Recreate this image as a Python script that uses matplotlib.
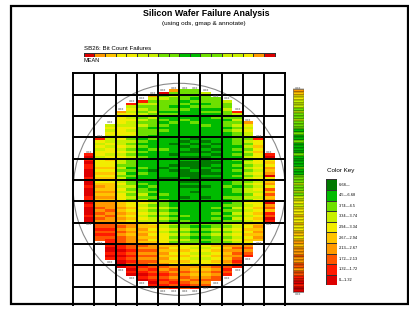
import numpy as np
import matplotlib
matplotlib.use('Agg')
import matplotlib.pyplot as plt
from matplotlib.colors import ListedColormap, BoundaryNorm
from matplotlib.patches import Rectangle, Ellipse

plt.rcParams['font.family'] = ['Liberation Sans', 'DejaVu Sans']

# colour key, lowest class first
key_colors = ['#DD0000', '#FF1A00', '#FF5500', '#FF9900', '#FFC400',
              '#F2EC00', '#C8F000', '#6EE000', '#00BB00', '#007A00']
key_labels = ['0\u20141.32', '1.32\u20141.72', '1.72\u20142.13', '2.13\u20142.67',
              '2.67\u20142.94', '2.94\u20143.34', '3.34\u20143.74', '3.74\u20144.5',
              '4.5\u20146.68', '6.68\u2014']

# wafer: first die row of each die column, then the class of every die going down
col_top = [30, 24, 19, 14, 11, 10, 8, 7, 6, 6, 6, 7, 9, 10, 14, 18, 24, 30]
col_dies = [
    '10101100010010001101000100',
    '1 56565565 55454545 4343434 33232323 2212122',
    '656566656556 5455454545 4443434 33323233 22121211 100101',
    '3 55556555 6566565656 67676766 5656555 44343434 32323222 110101000',
    '1 65656566565 6767676767 77878787 7676767 55454545 33434333 22121212 1010',
    '1 676767676777 7878787878 88787888 7877676 56565656 44343434 23232322 121010',
    '3 67677676777877 8788878888 88898888 8787878 67676766 54545454 33232323 21212101',
    '0 767777878787878 8888878888 88988898 8888787 77676767 56565555 43434343 232121212',
    '3 7677787878878888 8889888988 89898898 8888888 88787878 67676767 45454545 323232121',
    '7 7778787888788888 8898989898 99899989 8988898 88888787 77676767 55454545 332323212',
    '7 7787878888878888 8989899898 99989999 8989888 88888888 78787877 56565656 343432321',
    '6 777878788887888 8898989899 99899898 8988898 88888888 78787878 56565655 34343232',
    '7 7778787888888 8889898988 98989898 8888888 88787878 77676777 45454545 232322',
    '6 776777877878 8888888888 88888888 8788878 87878787 67676767 34343434 2121',
    '1 67676767 7777878787 87878787 7877877 77676767 56565656 323232121',
    '3 5656 6767676767 67676767 6766767 56565656 45454545 32321',
    '1 55454555 56565656 5656565 55454545 4343434',
    '10545343054352424303241201',
]
# class of the mean of each die column and of each die row
col_mean = [0, 3, 4, 5, 5, 6, 6, 7, 7, 8, 8, 7, 7, 6, 6, 5, 3, 0]
row_first = 6
row_mean = '34 556 667677677 7878878888788887887 776776766 565554554554454 34333233 22322 110100'

W, H = 410, 310
n_rows = 87
cmap = ListedColormap(key_colors)
norm = BoundaryNorm(np.arange(-0.5, 10.5, 1), cmap.N)


def px_axes(fig, x0, y0, x1, y1):
    ax = fig.add_axes([x0 / W, 1 - y1 / H, (x1 - x0) / W, (y1 - y0) / H])
    ax.axis('off')
    return ax


def xxx(ax, x, y, fs=2.6):
    ax.text(x, y, 'xxx', fontsize=fs, color='#555555', ha='center', va='center',
            family='DejaVu Sans', zorder=6, clip_on=False)


fig = plt.figure(figsize=(W / 100, H / 100), dpi=100)

# wafer map
ax = px_axes(fig, 73.3, 73.3, 285.3, 305.3)
ax.set_xlim(0, 20)
ax.set_ylim(n_rows, 0)
z = np.full((n_rows, 20), np.nan)
for c in range(len(col_top)):
    dies = col_dies[c].replace(' ', '')
    for k, ch in enumerate(dies):
        z[col_top[c] + k, c + 1] = int(ch)
    xxx(ax, c + 1.5, col_top[c] - 0.6)
    xxx(ax, c + 1.5, col_top[c] + len(dies) + 0.6)
z = np.ma.masked_invalid(z)
ax.pcolormesh(np.arange(21), np.arange(n_rows + 1), z, cmap=cmap, norm=norm, zorder=1)
ax.add_patch(Ellipse((10, 43.5), 20, 79.5, fill=False, edgecolor='#8a8a8a', lw=0.8, zorder=3))
for i in range(0, 21, 2):
    ax.axvline(i, color='black', lw=1.4, zorder=4, clip_on=False)
for j in range(0, n_rows, 8):
    ax.axhline(j, color='black', lw=1.4, zorder=4, clip_on=False)

# column means
ax2 = px_axes(fig, 73.3, 52.5, 285.3, 56.5)
ax2.set_xlim(0, 20)
ax2.set_ylim(0, 1)
ax2.pcolormesh(np.arange(1, 20), [0, 1], [col_mean], cmap=cmap, norm=norm,
               edgecolors='#333333', linewidth=0.4)

# row means
rm = [int(ch) for ch in row_mean.replace(' ', '')]
ax3 = px_axes(fig, 293, 73.3, 304, 305.3)
ax3.set_xlim(0, 1)
ax3.set_ylim(n_rows, 0)
ax3.pcolormesh([0, 1], np.arange(row_first, row_first + len(rm) + 1), np.array(rm)[:, None],
               cmap=cmap, norm=norm, edgecolors=(0, 0, 0, 0.18), linewidth=0.25)
ax3.add_patch(Rectangle((0, row_first), 1, len(rm), fill=False, edgecolor='#777777', lw=0.5))
xxx(ax3, 0.5, row_first - 0.6)
xxx(ax3, 0.5, row_first + len(rm) + 0.6)

# colour key
ax4 = px_axes(fig, 326, 179.3, 337, 285.3)
ax4.set_xlim(0, 1)
ax4.set_ylim(10, 0)
ax4.pcolormesh([0, 1], np.arange(11), np.arange(9, -1, -1)[:, None], cmap=cmap, norm=norm,
               edgecolors='#333333', linewidth=0.4)
for i in range(10):
    ax4.text(1.15, i + 0.5, key_labels[9 - i], fontsize=2.8, va='center', ha='left')
fig.text(341 / W, 1 - 170.5 / H, 'Color Key', fontsize=4.5, ha='center', va='center')

# titles
fig.text(206.5 / W, 1 - 13.5 / H, 'Silicon Wafer Failure Analysis', fontsize=6.4,
         weight='bold', ha='center', va='center')
fig.text(204 / W, 1 - 23 / H, '(using ods, gmap & annotate)', fontsize=4.6,
         ha='center', va='center')
fig.text(84 / W, 1 - 48.5 / H, 'SB26: Bit Count Failures', fontsize=4.4, ha='left', va='center')
fig.text(84 / W, 1 - 61 / H, 'MEAN', fontsize=4, ha='left', va='center')

# outer frame
fig.add_artist(Rectangle((11.5 / W, 1 - 304 / H), 396.5 / W, 298.5 / H,
                         transform=fig.transFigure, fill=False, lw=1.6, edgecolor='black'))

fig.savefig('out.png', dpi=100)
